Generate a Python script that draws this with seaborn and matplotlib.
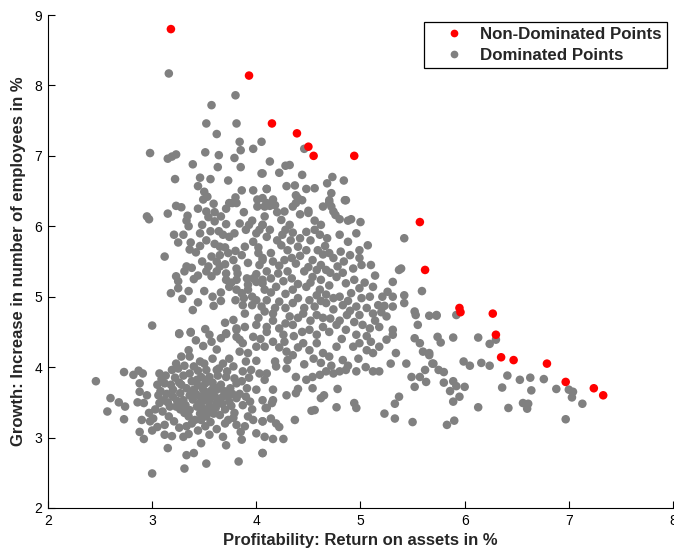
import matplotlib
matplotlib.use("Agg")
import matplotlib.pyplot as plt
import seaborn as sns
import pandas as pd

# ---------------- data ----------------
non_dominated_x = [3.18, 3.93, 4.15, 4.39, 4.50, 4.55, 4.94, 5.57, 5.62, 5.95, 5.96,
                   6.27, 6.30, 6.35, 6.47, 6.79, 6.97, 7.24, 7.33]
non_dominated_y = [8.80, 8.14, 7.46, 7.32, 7.13, 7.00, 7.00, 6.06, 5.38, 4.84, 4.78,
                   4.76, 4.46, 4.14, 4.10, 4.05, 3.79, 3.70, 3.60]

dom_upper = [
    (3.16, 8.17), (3.80, 7.86), (3.57, 7.72), (3.52, 7.46), (3.81, 7.46), (3.62, 7.31),
    (3.84, 7.20), (4.05, 7.20), (2.98, 7.04), (3.15, 6.96), (3.19, 6.99), (3.23, 7.02),
    (3.51, 7.05), (3.64, 7.01), (3.85, 7.08), (3.97, 7.10), (3.79, 6.97), (3.39, 6.88),
    (3.63, 6.84), (3.85, 6.84), (4.05, 6.75), (3.22, 6.67), (3.46, 6.69), (3.56, 6.67),
    (3.73, 6.65), (3.44, 6.57), (3.50, 6.49), (3.53, 6.42), (3.49, 6.38), (3.86, 6.51),
    (3.97, 6.51), (4.10, 6.53), (3.80, 6.41), (3.74, 6.33), (3.81, 6.33), (3.59, 6.32),
    (4.01, 6.38), (4.06, 6.40), (4.09, 6.30), (3.23, 6.29), (3.28, 6.27), (3.71, 6.25),
    (4.46, 7.10), (4.13, 6.92), (4.28, 6.86), (4.32, 6.87), (4.06, 6.75), (4.22, 6.76),
    (4.44, 6.73), (4.73, 6.70), (4.84, 6.65), (4.68, 6.61), (4.10, 6.53), (4.29, 6.57),
    (4.37, 6.58), (4.48, 6.53), (4.56, 6.54), (4.72, 6.47), (4.38, 6.44), (4.40, 6.40),
    (4.44, 6.37), (4.16, 6.38), (4.13, 6.29), (4.86, 6.37), (4.70, 6.37), (4.72, 6.28),
    (4.35, 6.28), (4.50, 6.22),
]

dom_left_mid = [
    (2.95, 6.14), (2.97, 6.10), (3.15, 6.18), (3.34, 6.15), (3.33, 6.08), (3.35, 6.00),
    (3.52, 6.21), (3.54, 6.13), (3.60, 6.07), (3.71, 6.03), (3.84, 6.04), (3.77, 6.33),
    (3.93, 6.02), (3.96, 6.08), (4.01, 6.28), (4.08, 6.28), (4.06, 6.02), (4.03, 5.95),
    (4.00, 5.90), (3.56, 5.93), (3.64, 5.93), (3.68, 5.88), (3.74, 5.85), (3.79, 5.90),
    (3.21, 5.88), (3.30, 5.88), (3.25, 5.77), (3.37, 5.77), (3.36, 5.67), (3.42, 5.63),
    (3.46, 5.72), (3.12, 5.57), (3.65, 5.71), (3.65, 5.59), (3.73, 5.62), (3.78, 5.52),
    (3.86, 5.59), (3.89, 5.71), (3.97, 5.78), (4.02, 5.62), (4.06, 5.52), (4.03, 5.45),
    (3.57, 5.57), (3.62, 5.50), (3.65, 5.43), (3.81, 5.40), (3.82, 5.33), (3.54, 5.43),
    (3.52, 5.36), (3.57, 5.29), (3.33, 5.43), (3.38, 5.41), (3.31, 5.36), (3.23, 5.29),
    (3.25, 5.22), (3.40, 5.25), (3.71, 5.33), (3.71, 5.24), (3.74, 5.14), (3.81, 5.24),
    (3.91, 5.26), (3.97, 5.26), (4.00, 5.21), (3.92, 5.17), (4.06, 5.24), (4.08, 5.10),
    (3.25, 5.12), (3.35, 5.08), (3.29, 4.97), (3.81, 5.10), (3.86, 5.05), (3.92, 5.10),
    (3.66, 4.94), (3.59, 4.87), (3.39, 4.81), (3.80, 4.95), (3.87, 4.88), (3.89, 4.76),
    (4.00, 4.95), (4.05, 4.86), (4.08, 4.79), (3.00, 4.59), (3.26, 4.48), (3.37, 4.50),
    (3.51, 4.54), (3.70, 4.63), (3.78, 4.67), (3.81, 4.55), (3.89, 4.57), (4.00, 4.60),
    (3.71, 4.48), (3.81, 4.43),
    (3.44, 6.25), (3.48, 6.02), (3.60, 6.20), (3.66, 6.14), (3.88, 6.20), (3.90, 5.95),
    (3.46, 5.90), (3.52, 5.80), (3.60, 5.75), (3.70, 5.70), (3.80, 5.65), (3.92, 5.48),
    (3.70, 5.46), (3.48, 5.50), (3.44, 5.30), (3.62, 5.36), (3.76, 5.20), (3.66, 5.06),
    (3.88, 4.98), (3.50, 5.08), (3.96, 4.88), (3.58, 5.00), (3.18, 5.05), (3.44, 4.92),
]

dom_center = [
    (4.10, 6.33), (4.18, 6.30), (4.38, 6.33), (4.70, 6.34), (4.85, 6.37), (4.27, 6.21),
    (4.42, 6.17), (4.50, 6.19), (4.74, 6.21), (4.76, 6.16), (4.06, 6.02), (4.24, 6.09),
    (4.32, 6.02), (4.56, 6.08), (4.62, 6.02), (4.88, 6.08), (4.91, 6.10), (4.10, 5.85),
    (4.25, 5.88), (4.35, 5.91), (4.48, 5.92), (4.61, 5.88), (4.68, 5.83), (4.80, 5.88),
    (4.24, 5.73), (4.30, 5.66), (4.40, 5.71), (4.48, 5.66), (4.59, 5.66), (4.70, 5.62),
    (4.81, 5.64), (4.88, 5.78), (4.99, 5.66), (5.07, 5.73), (4.06, 5.55), (4.16, 5.50),
    (4.27, 5.52), (4.38, 5.47), (4.54, 5.52), (4.62, 5.45), (4.67, 5.38), (4.78, 5.43),
    (4.90, 5.59), (4.99, 5.55), (5.01, 5.45), (5.10, 5.45), (4.10, 5.36), (4.21, 5.33),
    (4.34, 5.26), (4.46, 5.36), (4.54, 5.28), (4.62, 5.24), (4.77, 5.28), (4.86, 5.19),
    (4.99, 5.12), (5.12, 5.14), (5.37, 5.38), (5.39, 5.40), (4.06, 5.19), (4.19, 5.14),
    (4.35, 5.10), (4.48, 5.14), (4.61, 5.10), (4.67, 5.03), (4.80, 5.00), (4.91, 5.05),
    (5.01, 4.98), (5.09, 5.00), (5.21, 5.00), (5.26, 5.07), (5.31, 5.21), (5.31, 5.00),
    (5.42, 5.02), (5.59, 5.08), (4.10, 4.95), (4.22, 4.93), (4.35, 4.91), (4.51, 4.95),
    (4.67, 4.91), (4.83, 4.88), (4.96, 4.86), (5.06, 4.84), (5.17, 4.88), (5.23, 4.87),
    (5.31, 4.86), (5.42, 4.91), (4.16, 4.76), (4.32, 4.72), (4.45, 4.76), (4.58, 4.74),
    (4.71, 4.69), (4.87, 4.74), (4.99, 4.74), (5.12, 4.76), (5.25, 4.72), (5.52, 4.79),
    (5.53, 4.74), (5.66, 4.73), (5.73, 4.74), (4.10, 4.57), (4.22, 4.55), (4.35, 4.60),
    (4.51, 4.53), (4.64, 4.57), (4.77, 4.60), (4.86, 4.53), (5.02, 4.60), (5.09, 4.55),
    (5.18, 4.57), (5.31, 4.53), (5.55, 4.60), (5.42, 5.83),
    (4.13, 5.95), (4.20, 5.80), (4.28, 5.95), (4.33, 5.80), (4.42, 5.83), (4.52, 5.80),
    (4.56, 5.95), (4.66, 5.72), (4.74, 5.55), (4.84, 5.50), (4.14, 5.62), (4.22, 5.44),
    (4.30, 5.36), (4.34, 5.55), (4.42, 5.58), (4.50, 5.42), (4.58, 5.38), (4.64, 5.60),
    (4.71, 5.34), (4.83, 5.34), (4.93, 5.40), (4.14, 5.26), (4.26, 5.22), (4.40, 5.18),
    (4.52, 5.20), (4.58, 5.02), (4.70, 5.16), (4.74, 4.98), (4.88, 4.94), (4.94, 5.24),
    (4.14, 5.06), (4.28, 5.04), (4.40, 4.98), (4.46, 4.84), (4.56, 4.86), (4.62, 4.94),
    (4.74, 4.82), (4.90, 4.80), (4.18, 4.84), (4.28, 4.84), (4.40, 4.70), (4.52, 4.66),
    (4.64, 4.70), (4.80, 4.66), (4.94, 4.64), (4.16, 4.66), (4.28, 4.62), (4.44, 4.50),
    (4.58, 4.46), (4.70, 4.50), (4.26, 4.46), (4.36, 4.44), (4.96, 4.46), (5.06, 4.44),
    (5.14, 4.66), (5.20, 4.78), (5.04, 5.20), (5.14, 5.30), (4.02, 5.70), (4.00, 5.32),
    (3.96, 5.00), (4.02, 4.70), (4.04, 4.40), (4.08, 6.14), (4.20, 6.20), (4.64, 6.28),
    (4.80, 6.10), (4.96, 5.90), (5.00, 6.06),
]

dom_lower_left = [
    (2.46, 3.80), (2.73, 3.93), (2.82, 3.89), (2.87, 3.95), (2.91, 3.91), (2.60, 3.56),
    (2.68, 3.50), (2.74, 3.44), (2.57, 3.37), (2.73, 3.26), (2.88, 3.77), (2.88, 3.65),
    (2.95, 3.60), (2.86, 3.50), (2.92, 3.49), (2.90, 3.25), (2.98, 3.23), (3.01, 3.27),
    (2.88, 3.08), (2.92, 2.98), (3.00, 3.10), (3.00, 2.49), (3.07, 3.91), (3.09, 3.83),
    (3.05, 3.75), (3.12, 3.77), (3.06, 3.60), (3.11, 3.53), (3.07, 3.49), (3.10, 3.37),
    (3.16, 3.30), (3.21, 3.23), (3.12, 3.18), (3.12, 3.04), (3.19, 3.02), (3.15, 2.85),
    (3.23, 4.05), (3.28, 4.15), (3.35, 4.24), (3.36, 4.15), (3.26, 4.47), (3.37, 4.49),
    (3.49, 4.30), (3.57, 4.36), (3.66, 4.41), (3.71, 4.47), (3.81, 4.53), (3.84, 4.39),
    (3.87, 4.34), (3.97, 4.43), (4.00, 4.29), (4.08, 4.29), (3.28, 3.75), (3.28, 3.49),
    (3.31, 3.35), (3.33, 3.16), (3.30, 3.01), (3.33, 2.75), (3.40, 2.78), (3.31, 2.56),
    (3.36, 3.91), (3.40, 4.01), (3.46, 4.08), (3.52, 3.96), (3.43, 3.82), (3.51, 3.77),
    (3.55, 3.86), (3.36, 3.60), (3.46, 3.58), (3.54, 3.60), (3.43, 3.44), (3.52, 3.39),
    (3.62, 3.49), (3.41, 3.25), (3.51, 3.16), (3.47, 2.92), (3.62, 3.96), (3.68, 4.05),
    (3.71, 3.86), (3.78, 4.01), (3.81, 3.77), (3.87, 3.94), (3.91, 3.70), (3.62, 3.68),
    (3.68, 3.58), (3.74, 3.51), (3.81, 3.56), (3.87, 3.46), (3.94, 3.51), (3.65, 3.32),
    (3.73, 3.25), (3.81, 3.18), (3.89, 3.16), (3.68, 3.01), (3.71, 2.89), (3.86, 2.97),
    (3.83, 2.66), (3.52, 2.63), (4.00, 4.09), (4.03, 3.91), (4.08, 3.82), (4.00, 3.68),
    (4.06, 3.53), (4.10, 3.42), (3.97, 3.25), (4.06, 3.23), (4.00, 3.06), (4.08, 3.01),
    (4.06, 2.78), (3.20, 3.58), (3.27, 3.63), (3.30, 3.53), (3.36, 3.39), (3.46, 3.34),
    (3.52, 3.30), (3.55, 3.53), (3.59, 3.34), (3.23, 3.44), (3.49, 3.68), (3.59, 3.72),
    (3.17, 3.44), (3.20, 3.68),
    (3.22, 3.85), (3.26, 3.78), (3.30, 3.88), (3.33, 3.70), (3.38, 3.80), (3.40, 3.68),
    (3.44, 3.74), (3.47, 3.86), (3.49, 3.52), (3.53, 3.82), (3.56, 3.66), (3.58, 3.78),
    (3.60, 3.58), (3.63, 3.88), (3.66, 3.75), (3.69, 3.66), (3.72, 3.94), (3.75, 3.70),
    (3.77, 3.62), (3.79, 3.84), (3.24, 3.52), (3.27, 3.40), (3.32, 3.46), (3.35, 3.30),
    (3.39, 3.54), (3.42, 3.62), (3.45, 3.48), (3.48, 3.42), (3.50, 3.60), (3.55, 3.45),
    (3.57, 3.38), (3.61, 3.42), (3.64, 3.55), (3.67, 3.48), (3.70, 3.40), (3.73, 3.60),
    (3.76, 3.45), (3.79, 3.35), (3.84, 3.62), (3.86, 3.80), (3.90, 3.58), (3.93, 3.85),
    (3.96, 3.40), (3.14, 3.62), (3.15, 3.50), (3.18, 3.75), (3.13, 3.88), (3.19, 3.96),
    (3.25, 3.98), (3.31, 4.02), (3.44, 3.95), (3.50, 4.05), (3.58, 4.12), (3.64, 3.98),
    (3.74, 4.12), (3.84, 4.22), (3.90, 4.08), (3.95, 3.96), (3.38, 3.20), (3.44, 3.10),
    (3.56, 3.22), (3.62, 3.12), (3.78, 3.28), (3.92, 3.30), (3.26, 3.14), (3.47, 3.25),
    (3.70, 3.20), (3.85, 3.08), (3.55, 3.04), (3.35, 3.05), (3.08, 3.66), (3.03, 3.40),
    (2.97, 3.35), (3.05, 3.15), (3.42, 4.38), (3.55, 4.46), (3.62, 4.25), (3.92, 4.20),
]

dom_lower_mid = [
    (4.10, 4.50), (4.16, 4.36), (4.27, 4.36), (4.29, 4.22), (4.35, 4.17), (4.18, 4.08),
    (4.19, 4.01), (4.10, 3.91), (4.29, 3.98), (4.38, 3.86), (4.48, 3.82), (4.54, 3.86),
    (4.61, 3.89), (4.67, 3.94), (4.74, 3.91), (4.80, 3.94), (4.86, 3.96), (4.96, 3.94),
    (5.12, 3.94), (5.18, 3.94), (4.45, 4.34), (4.51, 4.24), (4.58, 4.34), (4.64, 4.20),
    (4.70, 4.15), (4.77, 4.29), (4.83, 4.10), (4.93, 4.29), (4.99, 4.34), (5.06, 4.24),
    (5.12, 4.20), (5.18, 4.29), (5.25, 4.39), (5.31, 4.46), (5.34, 4.20), (5.44, 4.05),
    (5.52, 4.41), (5.57, 4.34), (5.60, 4.22), (5.66, 4.20), (5.70, 4.05), (5.62, 3.96),
    (5.57, 3.86), (5.63, 3.79), (5.49, 3.86), (5.52, 3.72), (5.29, 4.05), (4.16, 3.68),
    (4.29, 3.60), (4.38, 3.63), (4.40, 3.69), (4.54, 3.70), (4.65, 3.60), (4.62, 3.56),
    (4.78, 3.69), (4.16, 3.53), (4.15, 3.49), (4.09, 3.42), (4.53, 3.38), (4.56, 3.39),
    (4.77, 3.43), (4.94, 3.49), (4.96, 3.42), (5.23, 3.34), (5.33, 3.48), (5.37, 3.58),
    (5.33, 3.27), (5.50, 3.22), (4.37, 3.25), (4.06, 3.23), (4.14, 3.27), (4.19, 3.20),
    (4.22, 3.15), (4.16, 2.98), (4.26, 2.98), (4.06, 2.78),
    (4.22, 4.28), (4.40, 4.28), (4.55, 4.12), (4.62, 4.06), (4.72, 4.02), (4.88, 4.02),
    (4.98, 4.12), (5.05, 4.00), (4.46, 4.04), (4.30, 4.10), (4.82, 4.40), (5.10, 4.36),
]

dom_right_tail = [
    (5.73, 4.73), (5.92, 4.74), (5.74, 4.43), (5.77, 4.35), (5.89, 4.42), (6.13, 4.42),
    (6.24, 4.33), (6.30, 4.39), (5.66, 4.17), (5.69, 4.05), (5.99, 4.08), (6.05, 4.02),
    (6.16, 4.06), (6.24, 4.02), (5.75, 3.96), (5.80, 3.93), (5.80, 3.78), (5.89, 3.80),
    (5.92, 3.73), (6.00, 3.72), (5.86, 3.66), (5.95, 3.58), (5.89, 3.51), (6.13, 3.43),
    (5.83, 3.18), (5.90, 3.24), (6.41, 3.88), (6.53, 3.82), (6.63, 3.85), (6.76, 3.83),
    (6.36, 3.71), (6.64, 3.67), (6.88, 3.69), (7.00, 3.68), (7.04, 3.65), (7.03, 3.57),
    (7.13, 3.48), (6.42, 3.42), (6.56, 3.49), (6.61, 3.48), (6.60, 3.41), (6.97, 3.26),
]

labels = ["Non-Dominated Points", "Dominated Points"]
colors = ["#ff0000", "#808080"]
x_label = "Profitability: Return on assets in %"
y_label = "Growth: Increase in number of employees in %"

# ---------------- build table ----------------
dominated = dom_upper + dom_left_mid + dom_center + dom_lower_left + dom_lower_mid + dom_right_tail
df_dom = pd.DataFrame(dominated, columns=["x", "y"])
df_dom["kind"] = labels[1]
df_nd = pd.DataFrame({"x": non_dominated_x, "y": non_dominated_y})
df_nd["kind"] = labels[0]
df = pd.concat([df_dom, df_nd], ignore_index=True)

# ---------------- plot ----------------
sns.set_theme(style="ticks")
plt.rcParams["font.family"] = ["Liberation Sans", "DejaVu Sans"]

fig = plt.figure(figsize=(6.74, 5.5), dpi=100)
ax = fig.add_axes([0.0712, 0.0764, 0.9273, 0.8963])

sns.scatterplot(data=df, x="x", y="y", hue="kind", hue_order=labels,
                palette=dict(zip(labels, colors)), s=38, linewidth=0,
                alpha=1.0, ax=ax, legend=True)

ax.set_xlim(2, 8)
ax.set_ylim(2, 9)
ax.set_xticks(range(2, 9))
ax.set_yticks(range(2, 10))
ax.tick_params(direction="in", length=5, width=0.8, labelsize=10, colors="black", pad=4)
for side in ["top", "right"]:
    ax.spines[side].set_visible(False)
for side in ["left", "bottom"]:
    ax.spines[side].set_linewidth(0.8)
    ax.spines[side].set_color("black")

ax.set_xlabel(x_label, fontsize=12, fontweight="bold", labelpad=4)
ax.set_ylabel(y_label, fontsize=12, fontweight="bold", labelpad=6)

leg = ax.legend(loc="upper right", bbox_to_anchor=(0.9904, 0.9858), frameon=True,
                fancybox=False, edgecolor="black", framealpha=1,
                prop={"weight": "bold", "size": 12.2}, markerscale=0.9,
                handletextpad=0.1, borderpad=0.3, labelspacing=0.35,
                borderaxespad=0, handlelength=2.9)
leg.get_frame().set_linewidth(0.9)

fig.savefig("out.png", dpi=100)
